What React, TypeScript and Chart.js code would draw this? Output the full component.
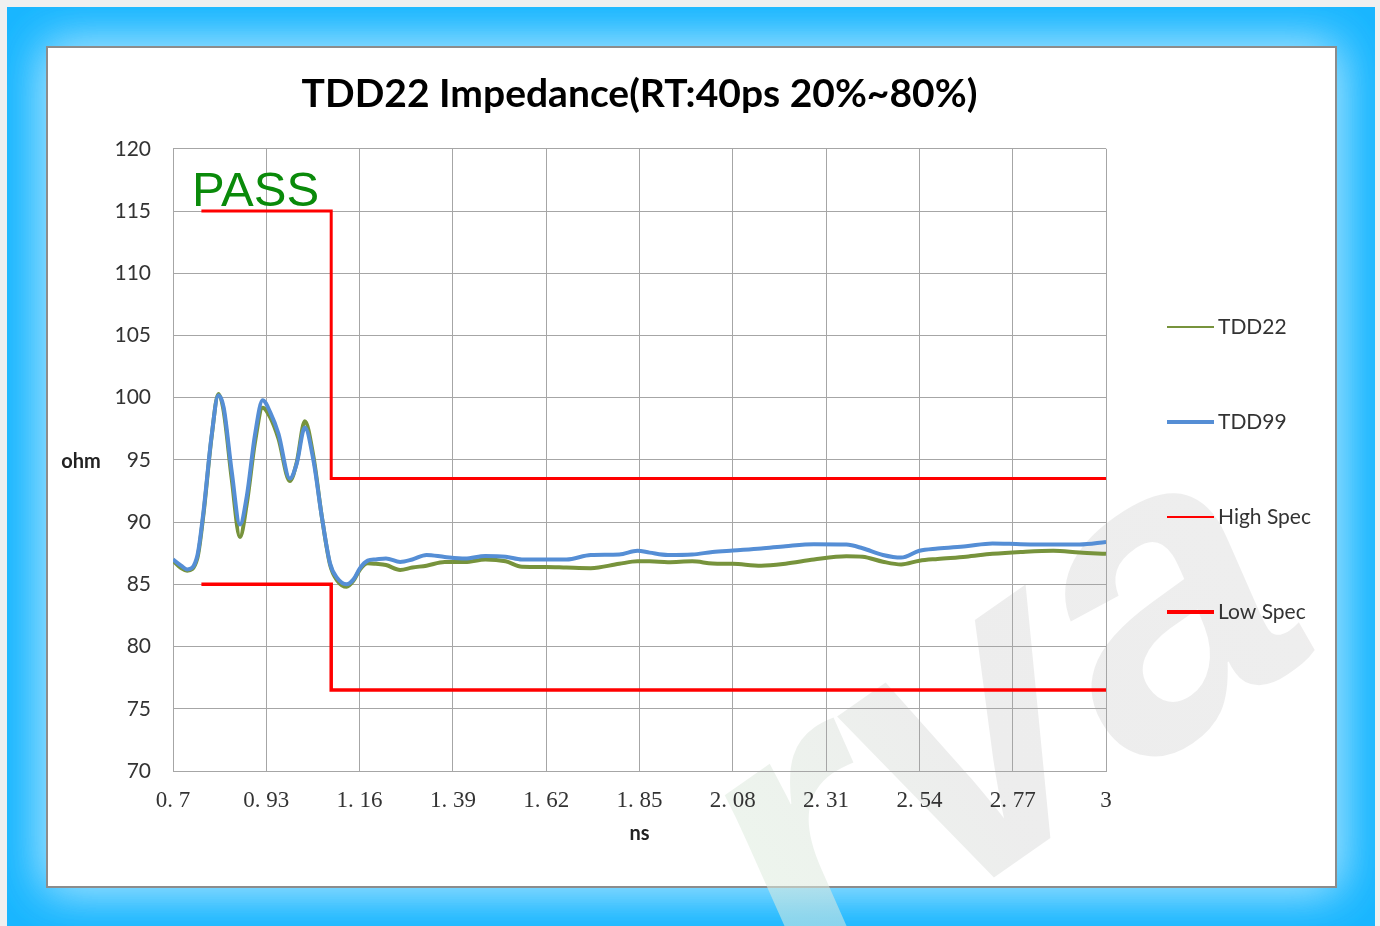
import React, { useEffect, useRef } from "react";
import { Chart, registerables } from "chart.js";

Chart.register(...registerables);

const timeNs = [
  0.7, 0.72, 0.735, 0.76, 0.775, 0.795, 0.812, 0.825, 0.845, 0.865, 0.882, 0.902, 0.921, 0.94, 0.96, 0.988,
  1.005, 1.025, 1.046, 1.067, 1.087, 1.105, 1.128, 1.145, 1.161, 1.18, 1.2, 1.225, 1.26, 1.29, 1.325, 1.37,
  1.42, 1.47, 1.52, 1.56, 1.62, 1.67, 1.73, 1.8, 1.845, 1.875, 1.92, 1.98, 2.03, 2.08, 2.15, 2.21, 2.28,
  2.36, 2.4, 2.45, 2.495, 2.54, 2.585, 2.655, 2.72, 2.79, 2.87, 2.935, 3.0,
];

const tdd22 = [
  86.9, 86.3, 86.1, 87.1, 90.6, 96.8, 100.3, 98.9, 93.4, 88.8, 91.5, 96.4, 99.2, 98.4, 96.7, 93.3,
  94.8, 98.1, 95.3, 90.4, 86.6, 85.3, 84.8, 85.3, 86.2, 86.7, 86.65, 86.55, 86.16, 86.35, 86.5, 86.8,
  86.8, 87.0, 86.85, 86.42, 86.4, 86.35, 86.3, 86.65, 86.85, 86.85, 86.78, 86.85, 86.68, 86.65, 86.5, 86.66, 87.0,
  87.26, 87.22, 86.82, 86.6, 86.9, 87.04, 87.22, 87.45, 87.6, 87.7, 87.55, 87.45,
];

const tdd99 = [
  87.0, 86.5, 86.2, 87.3, 90.8, 96.9, 100.2, 99.2, 94.0, 89.8, 92.1, 97.0, 99.8, 98.8, 97.1, 93.5,
  94.7, 97.6, 95.0, 90.4, 86.7, 85.5, 85.0, 85.4, 86.3, 86.9, 87.0, 87.08, 86.8, 87.0, 87.36, 87.2,
  87.08, 87.28, 87.22, 87.0, 87.0, 87.0, 87.36, 87.4, 87.7, 87.55, 87.36, 87.4, 87.6, 87.72, 87.88, 88.07, 88.23,
  88.2, 87.9, 87.36, 87.15, 87.7, 87.88, 88.07, 88.29, 88.23, 88.2, 88.2, 88.4,
];

const specX = [0.77, 1.09, 1.09, 3.0];
const highSpec = [115, 115, 93.5, 93.5];
const lowSpec = [85, 85, 76.5, 76.5];

const xTicks = [0.7, 0.93, 1.16, 1.39, 1.62, 1.85, 2.08, 2.31, 2.54, 2.77, 3];
const xTickLabels = ["0. 7", "0. 93", "1. 16", "1. 39", "1. 62", "1. 85", "2. 08", "2. 31", "2. 54", "2. 77", "3"];

const seriesNames = ["TDD22", "TDD99", "High Spec", "Low Spec"];
const seriesColors = ["#77933c", "#558ed5", "#ff0000", "#ff0000"];
const legendLineWidths = [2, 4, 2, 4];

const titleText = "TDD22 Impedance(RT:40ps 20%~80%)";
const yAxisTitle = "ohm";
const xAxisTitle = "ns";
const passText = "PASS";
const watermarkText = "rva";

const framePlugin = {
  id: "frame",
  beforeDraw(chart: any) {
    const { ctx, width, height } = chart;
    ctx.save();
    ctx.fillStyle = "#f0f0f0";
    ctx.fillRect(0, 0, width, height);
    ctx.fillStyle = "#19b6ff";
    ctx.fillRect(7, 7, width - 12, height - 7);
    ctx.save();
    ctx.beginPath();
    ctx.rect(7, 7, width - 12, height - 7);
    ctx.clip();
    ctx.shadowColor = "rgba(150,222,255,1)";
    ctx.shadowBlur = 45;
    ctx.fillStyle = "#ffffff";
    ctx.fillRect(47, 47, 1289, 840);
    ctx.fillRect(47, 47, 1289, 840);
    ctx.restore();
    ctx.fillStyle = "#ffffff";
    ctx.fillRect(47, 47, 1289, 840);
    ctx.strokeStyle = "#8c8c8c";
    ctx.lineWidth = 2;
    ctx.strokeRect(47, 47, 1289, 840);
    // watermark
    ctx.save();
    ctx.translate(812, 1005);
    ctx.rotate((-35 * Math.PI) / 180);
    ctx.font = "italic bold 420px 'Liberation Sans'";
    const g = ctx.createLinearGradient(0, 0, 760, 0);
    g.addColorStop(0, "rgba(222,238,222,0.55)");
    g.addColorStop(0.35, "rgba(222,222,222,0.55)");
    g.addColorStop(0.8, "rgba(224,224,224,0.55)");
    g.addColorStop(1, "rgba(250,215,215,0.55)");
    ctx.fillStyle = g;
    ctx.textBaseline = "alphabetic";
    ctx.fillText(watermarkText, 0, 0);
    ctx.restore();
    ctx.restore();
  },
};

const overlayPlugin = {
  id: "overlay",
  afterDraw(chart: any) {
    const { ctx, chartArea: ca } = chart;
    ctx.save();
    // PASS label
    ctx.font = "49px 'Liberation Sans'";
    ctx.fillStyle = "#0a8a0a";
    ctx.textAlign = "left";
    ctx.textBaseline = "alphabetic";
    ctx.fillText(passText, ca.left + 19, ca.top + 57);
    // y axis title (horizontal)
    ctx.font = "bold 20px Lato";
    ctx.fillStyle = "#222";
    ctx.textAlign = "center";
    ctx.textBaseline = "middle";
    ctx.fillText(yAxisTitle, ca.left - 92, (ca.top + ca.bottom) / 2 + 2);
    // legend
    const cy = (ca.top + ca.bottom) / 2 + 9.5;
    chart.data.datasets.forEach((ds: any, i: number) => {
      const y = cy + (i - 1.5) * 95;
      ctx.beginPath();
      ctx.strokeStyle = ds.borderColor;
      ctx.lineWidth = legendLineWidths[i];
      ctx.moveTo(ca.right + 61, y);
      ctx.lineTo(ca.right + 108, y);
      ctx.stroke();
      ctx.font = "21px Lato";
      ctx.fillStyle = "#333";
      ctx.textAlign = "left";
      ctx.textBaseline = "middle";
      ctx.fillText(ds.label, ca.right + 112, y);
    });
    ctx.restore();
  },
};

export default function App() {
  const ref = useRef<HTMLCanvasElement | null>(null);
  useEffect(() => {
    if (!ref.current) return;
    const toPts = (xs: number[], ys: number[]) => xs.map((x, i) => ({ x, y: ys[i] }));
    const chart = new Chart(ref.current, {
      type: "line",
      data: {
        datasets: [
          {
            label: seriesNames[0],
            data: toPts(timeNs, tdd22),
            borderColor: seriesColors[0],
            borderWidth: 4,
            pointRadius: 0,
            cubicInterpolationMode: "monotone",
            order: 3,
          },
          {
            label: seriesNames[1],
            data: toPts(timeNs, tdd99),
            borderColor: seriesColors[1],
            borderWidth: 4,
            pointRadius: 0,
            cubicInterpolationMode: "monotone",
            order: 2,
          },
          {
            label: seriesNames[2],
            data: toPts(specX, highSpec),
            borderColor: seriesColors[2],
            borderWidth: 3,
            pointRadius: 0,
            tension: 0,
            order: 1,
          },
          {
            label: seriesNames[3],
            data: toPts(specX, lowSpec),
            borderColor: seriesColors[3],
            borderWidth: 3.5,
            pointRadius: 0,
            tension: 0,
            order: 1,
          },
        ],
      },
      options: {
        responsive: false,
        maintainAspectRatio: false,
        animation: false,
        devicePixelRatio: 1,
        layout: { padding: { left: 47, top: 47, right: 274, bottom: 39 } },
        plugins: {
          legend: { display: false },
          tooltip: { enabled: false },
          title: {
            display: true,
            text: titleText,
            fullSize: false,
            color: "#000",
            font: { family: "Lato", size: 39, weight: "bold" },
            padding: { top: 24, bottom: 31 },
          },
        },
        scales: {
          x: {
            type: "linear",
            min: 0.7,
            max: 3,
            afterBuildTicks: (s: any) => {
              s.ticks = xTicks.map((v) => ({ value: v }));
            },
            afterFit: (s: any) => {
              s.height = 116;
            },
            ticks: {
              autoSkip: false,
              maxRotation: 0,
              padding: 16,
              color: "#333",
              font: { family: "'Liberation Serif'", size: 23 },
              callback: (_v: any, i: number) => xTickLabels[i],
            },
            grid: { color: "#a6a6a6", drawTicks: false, lineWidth: 1 },
            border: { color: "#a6a6a6" },
            title: {
              display: true,
              text: xAxisTitle,
              color: "#222",
              font: { family: "Lato", size: 20, weight: "bold" },
              padding: { top: 0, bottom: 41 },
            },
          },
          y: {
            min: 70,
            max: 120,
            afterFit: (s: any) => {
              s.width = 126;
            },
            ticks: {
              stepSize: 5,
              padding: 22,
              color: "#333",
              font: { family: "Lato", size: 21 },
            },
            grid: { color: "#a6a6a6", drawTicks: false, lineWidth: 1 },
            border: { color: "#a6a6a6" },
          },
        },
      },
      plugins: [framePlugin, overlayPlugin],
    } as any);
    return () => chart.destroy();
  }, []);
  return (
    <div style={{ position: "fixed", left: 0, top: 0, width: 1380, height: 926 }}>
      <canvas ref={ref} width={1380} height={926} style={{ display: "block" }} />
    </div>
  );
}
